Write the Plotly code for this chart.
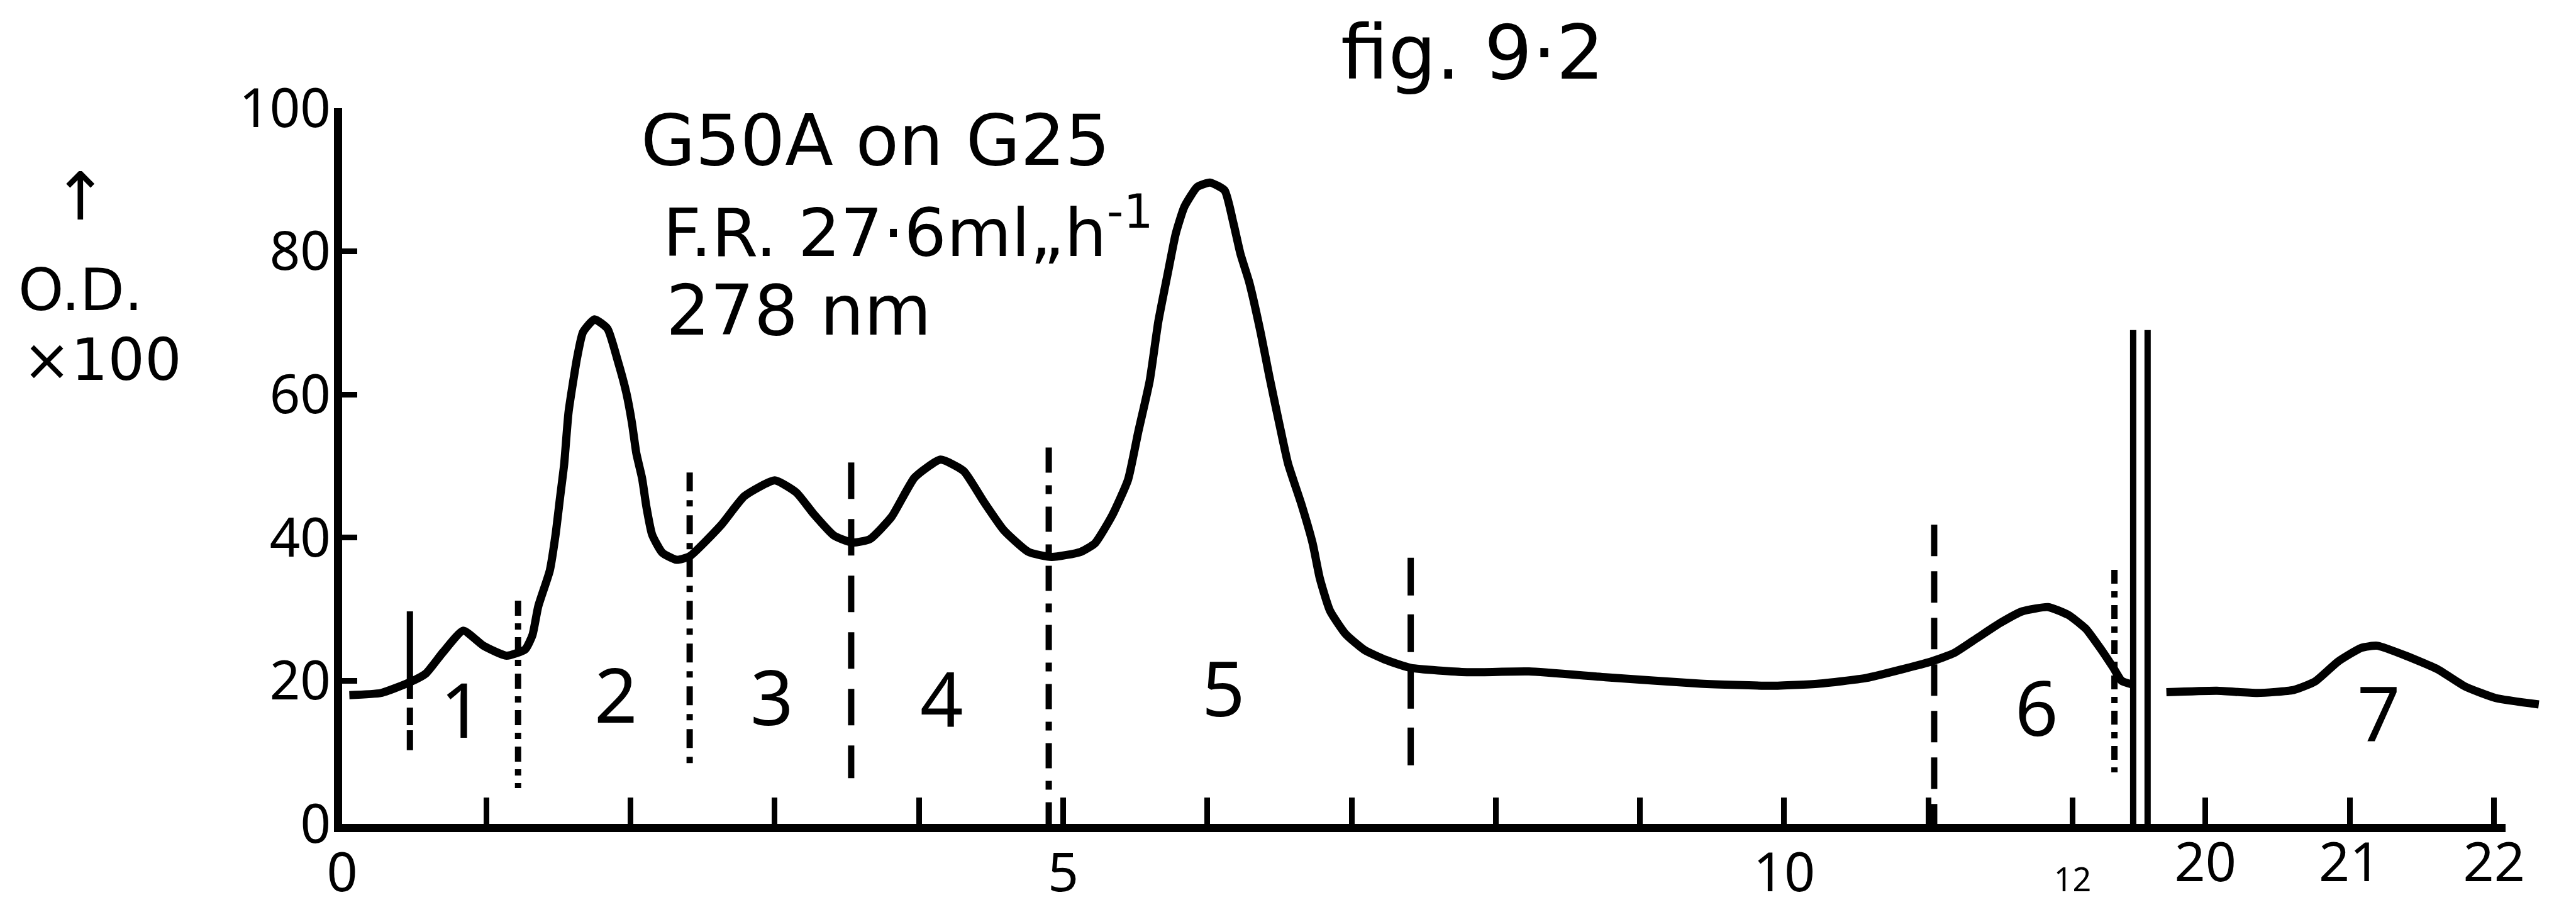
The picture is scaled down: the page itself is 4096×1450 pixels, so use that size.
import plotly.graph_objects as go

FONT = "Noto Sans"
NOTE_FONT = "DejaVu Sans"
INK = "black"

# ---- elution profile: O.D. x100 against fraction number ----
# section before the axis break
fraction_a = [0.05, 0.27, 0.47, 0.58, 0.70, 0.84, 0.98, 1.14, 1.27, 1.32,
              1.36, 1.44, 1.48, 1.51, 1.54, 1.57, 1.63, 1.67, 1.75, 1.84,
              1.91, 1.97, 2.01, 2.04, 2.08, 2.11, 2.15, 2.22, 2.32, 2.41,
              2.63, 2.79, 3.00, 3.15, 3.27, 3.41, 3.54, 3.66, 3.81, 3.97,
              4.15, 4.31, 4.45, 4.59, 4.76, 4.92, 5.12, 5.22, 5.34, 5.45,
              5.52, 5.60, 5.66, 5.73, 5.78, 5.84, 5.93, 6.02, 6.12, 6.18,
              6.23, 6.29, 6.37, 6.43, 6.50, 6.56, 6.65, 6.73, 6.78, 6.85,
              6.96, 7.09, 7.24, 7.41, 7.80, 8.23, 8.76, 9.42, 9.91, 10.24,
              10.57, 11.02, 11.18, 11.34, 11.50, 11.65, 11.83, 11.97, 12.09, 12.19,
              12.28, 12.34, 12.41]
od_a = [18.0, 18.3, 19.8, 21.0, 24.0, 27.0, 24.9, 23.5, 24.4, 26.4,
        30.4, 35.4, 40.4, 45.4, 50.3, 57.5, 65.2, 68.7, 70.5, 69.2,
        64.8, 60.3, 56.0, 51.8, 48.3, 44.3, 40.4, 37.9, 36.9, 37.4,
        41.8, 45.8, 48.0, 46.3, 43.3, 40.3, 39.3, 39.8, 42.9, 48.4,
        50.9, 49.3, 45.0, 41.0, 38.0, 37.3, 38.0, 39.2, 43.1, 48.1,
        54.7, 61.9, 70.2, 77.4, 82.4, 86.2, 89.0, 89.6, 88.5, 84.0,
        79.6, 75.7, 68.6, 62.5, 55.8, 50.3, 44.8, 39.2, 34.3, 29.8,
        26.5, 24.3, 22.9, 21.8, 21.2, 21.3, 20.5, 19.6, 19.3, 19.6,
        20.4, 22.7, 23.9, 26.0, 28.1, 29.7, 30.3, 29.2, 27.3, 24.6,
        21.9, 20.0, 19.5]

# section after the axis break
fraction_b = [19.73, 20.08, 20.36, 20.61, 20.76, 20.92, 21.08, 21.19, 21.39,
              21.61, 21.80, 22.01, 22.31]
od_b = [18.4, 18.6, 18.3, 18.7, 19.9, 22.7, 24.6, 24.9, 23.5,
        21.6, 19.2, 17.6, 16.7]

# pooled-fraction boundaries (fraction number, top and bottom of the mark)
divider_x = [0.47, 1.22, 2.41, 3.53, 4.90, 7.41, 11.04, 12.29]
divider_top = [29.7, 31.2, 49.1, 50.5, 52.6, 37.2, 41.8, 35.5]
divider_bottom = [10.3, 5.0, 7.7, 6.4, 0.0, 6.5, 0.0, 7.2]

# pool numbers and where they are written
pool_labels = ["1", "2", "3", "4", "5", "6", "7"]
pool_x = [0.83, 1.90, 2.98, 4.16, 6.11, 11.75, 21.20]
pool_y = [16.1, 18.2, 17.9, 17.6, 19.1, 16.4, 15.6]
pool_axis = ["x", "x", "x", "x", "x", "x", "x2"]

# axes
y_ticks = [0, 20, 40, 60, 80, 100]
x_ticks_a = [0, 5, 10, 12]
x_labels_a = ["0", "5", "10", "<span style='font-size:52px'>12</span>"]
x_minor_step = 1
x_ticks_b = [20, 21, 22]
x_labels_b = ["20", "21", "22"]
range_a = [0, 12.49]
range_b = [19.57, 22.35]
axis_b_end = 22.08
break_marks = [12.42, 12.52]
break_top = 69

# run conditions written beside the trace
run_lines = ["G50A on G25", "F.R. 27·6ml„h<sup>-1</sup>", "278 nm"]
caption_lines = ["↑", "O.D.", "×100"]

# ---- styling ----
dash_styles = ["139px,14px,28px,8px,34px",
               "24px,12px,10px,12px",
               "30px,14px,10px,14px",
               "58px,32px",
               "40px,20px,14px,20px",
               "60px,30px",
               "50px,24px",
               "22px,12px,10px,12px"]
CURVE_W = 13
AXIS_W = 13
DIV_W = 10
TICK_W = 9
X_TICK_LEN = 42

# placement of the free text (paper coordinates) and its size
run_pos = [(0.1351, 0.9552), (0.1451, 0.8322), (0.1465, 0.7170)]
run_size = [112, 106, 110]
caption_pos = [(-0.1188, 0.8760), (-0.1188, 0.7452), (-0.1088, 0.6485)]
caption_size = [105, 92, 92]

W, H = 4096, 1450
M_L, M_R, M_T, M_B = 544, 50, 172, 140
plot_w = W - M_L - M_R
plot_h = H - M_T - M_B
split = 0.8178
dom_a = [0, split]
dom_b = [split, 1]


def paper_x_a(v):
    return dom_a[0] + (v - range_a[0]) / (range_a[1] - range_a[0]) * (dom_a[1] - dom_a[0])


fig = go.Figure()

fig.add_trace(go.Scatter(
    x=fraction_a, y=od_a, xaxis="x", yaxis="y", mode="lines",
    line=dict(color=INK, width=CURVE_W, shape="spline", smoothing=0.5),
    hoverinfo="skip"))
fig.add_trace(go.Scatter(
    x=fraction_b, y=od_b, xaxis="x2", yaxis="y", mode="lines",
    line=dict(color=INK, width=CURVE_W, shape="spline", smoothing=0.5),
    hoverinfo="skip"))

for xv, top, bot, dash in zip(divider_x, divider_top, divider_bottom, dash_styles):
    fig.add_trace(go.Scatter(
        x=[xv, xv], y=[top, bot], xaxis="x", yaxis="y", mode="lines",
        line=dict(color=INK, width=DIV_W, dash=dash), hoverinfo="skip"))

# axis break: double vertical stroke
for bx in break_marks:
    px = paper_x_a(bx)
    fig.add_shape(type="line", xref="paper", yref="y", x0=px, x1=px,
                  y0=0, y1=break_top, line=dict(color=INK, width=10))

# baseline of the section after the break
line_off = (AXIS_W / 2) / plot_h
fig.add_shape(type="line", xref="x2", yref="paper", x0=range_b[0], x1=axis_b_end,
              y0=-line_off, y1=-line_off, line=dict(color=INK, width=AXIS_W))

for lab, xv, yv, ax in zip(pool_labels, pool_x, pool_y, pool_axis):
    fig.add_annotation(text=lab, x=xv, y=yv, xref=ax, yref="y", showarrow=False,
                       font=dict(family=FONT, size=120, color=INK),
                       xanchor="center", yanchor="middle")

for line, (px, py), sz in zip(run_lines, run_pos, run_size):
    fig.add_annotation(text=line, xref="paper", yref="paper", x=px, y=py,
                       xanchor="left", yanchor="middle", showarrow=False,
                       font=dict(family=NOTE_FONT, size=sz, color=INK))

fig.add_annotation(text="fig. 9·2", xref="paper", yref="paper", x=0.4529, y=1.078,
                   xanchor="left", yanchor="middle", showarrow=False,
                   font=dict(family=NOTE_FONT, size=120, color=INK))

# y-axis caption
for line, (px, py), sz in zip(caption_lines, caption_pos, caption_size):
    fig.add_annotation(text=line, xref="paper", yref="paper", x=px, y=py,
                       xanchor="center", yanchor="middle", showarrow=False,
                       font=dict(family=NOTE_FONT, size=sz, color=INK))

tick_common = dict(ticks="inside", tickcolor=INK, tickwidth=TICK_W, automargin=False,
                   showgrid=False, zeroline=False, fixedrange=True)

fig.update_layout(
    width=W, height=H,
    margin=dict(l=M_L, r=M_R, t=M_T, b=M_B, autoexpand=False),
    paper_bgcolor="white", plot_bgcolor="white",
    showlegend=False, hovermode=False,
    xaxis=dict(domain=dom_a, range=range_a, anchor="y",
               tickmode="array", tickvals=x_ticks_a, ticktext=x_labels_a,
               ticklen=X_TICK_LEN, showline=True, linewidth=AXIS_W, linecolor=INK,
               minor=dict(ticks="inside", tick0=0, dtick=x_minor_step,
                          ticklen=X_TICK_LEN, tickwidth=TICK_W, tickcolor=INK,
                          showgrid=False),
               tickfont=dict(family=FONT, size=86, color=INK),
               ticklabelstandoff=-9, **tick_common),
    xaxis2=dict(domain=dom_b, range=range_b, anchor="y",
                tickmode="array", tickvals=x_ticks_b, ticktext=x_labels_b,
                ticklen=X_TICK_LEN, showline=False,
                tickfont=dict(family=FONT, size=86, color=INK),
                ticklabelstandoff=AXIS_W - 9, **tick_common),
    yaxis=dict(range=[0, 100], anchor="x", tickmode="array", tickvals=y_ticks,
               ticklen=24, showline=True, linewidth=AXIS_W, linecolor=INK,
               tickfont=dict(family=FONT, size=85, color=INK),
               ticklabelstandoff=-12, **tick_common),
)

fig.write_html("out.html", config={"displayModeBar": False, "staticPlot": True})
